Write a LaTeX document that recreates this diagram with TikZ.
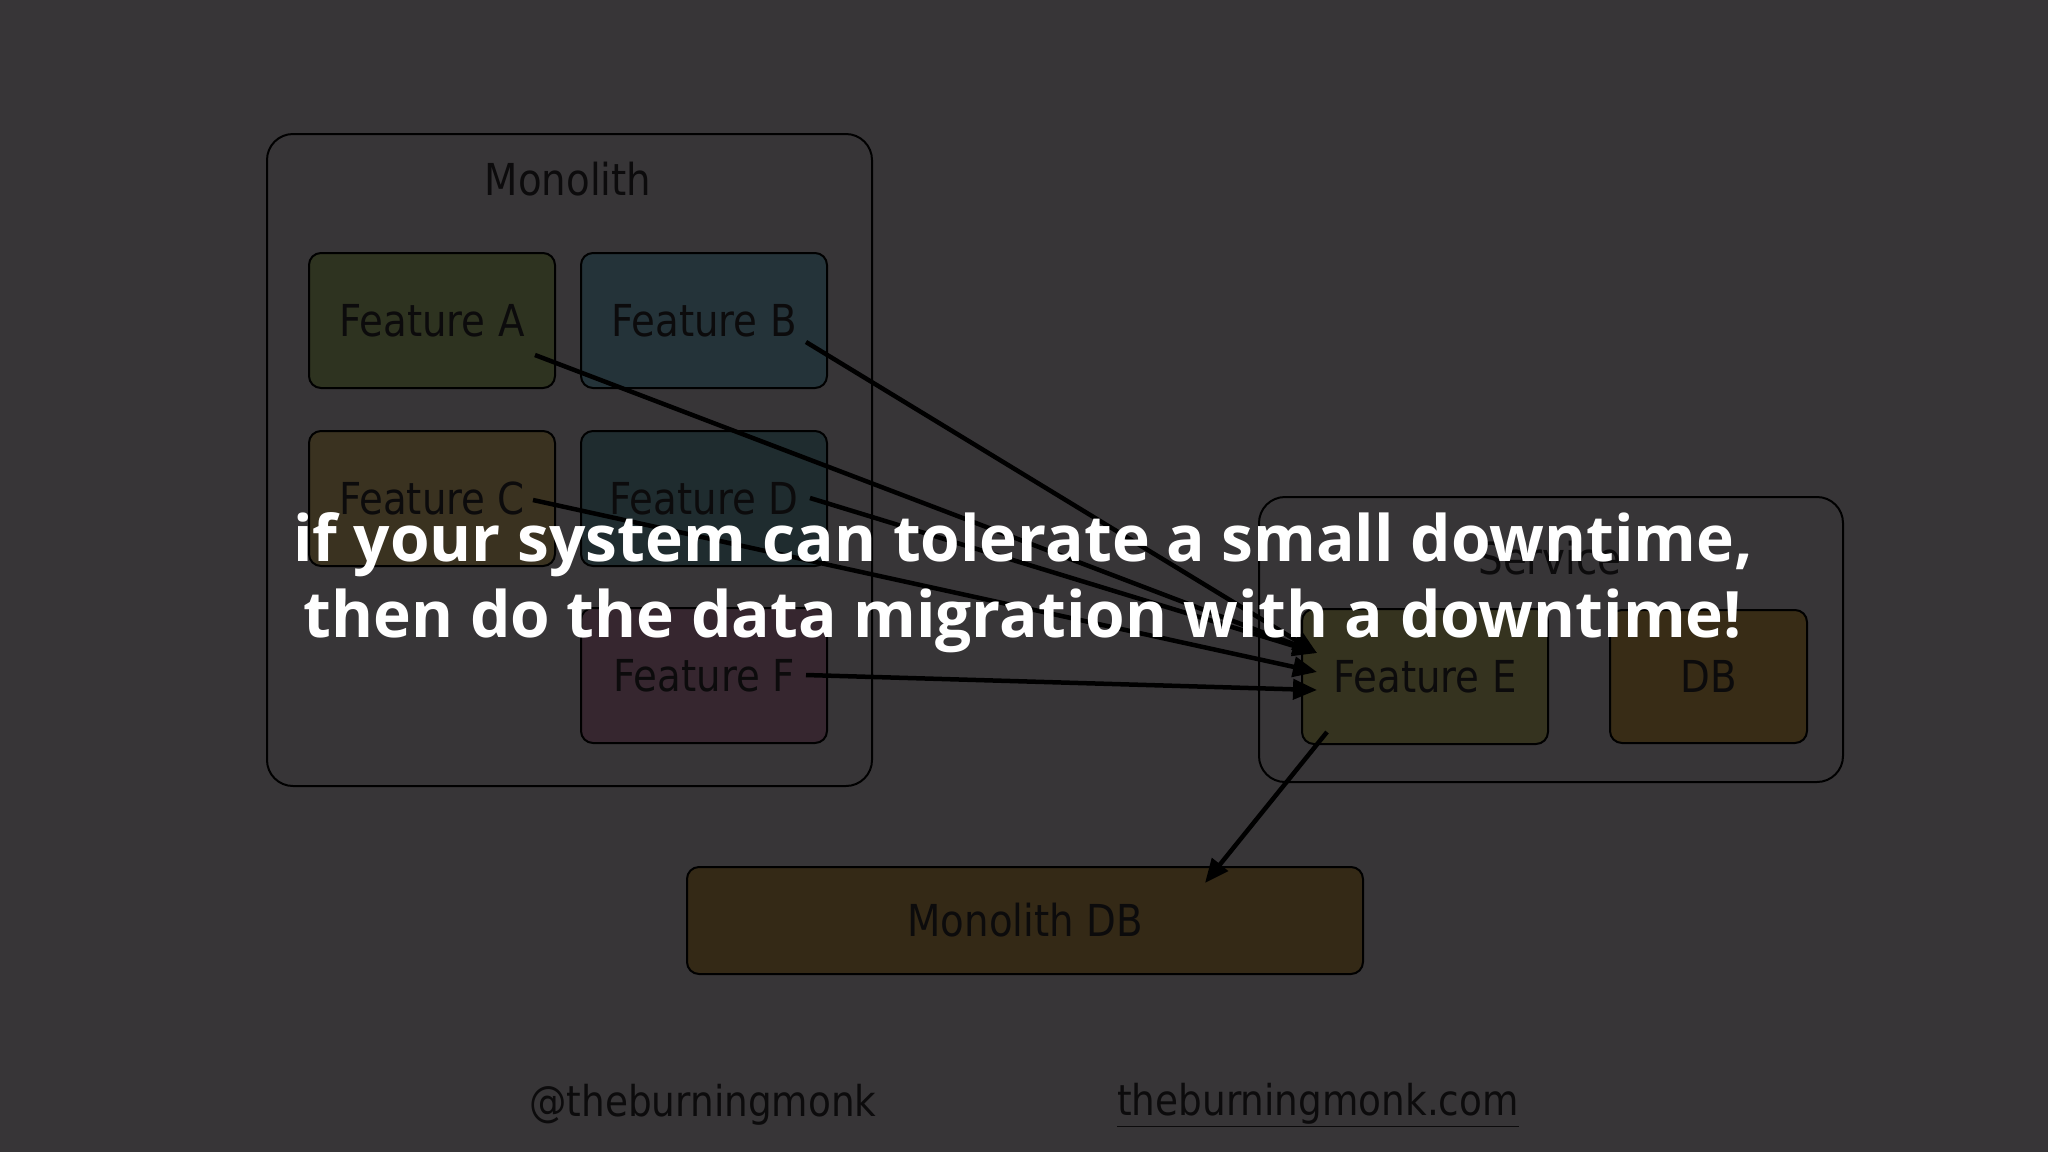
\documentclass[tikz,border=0pt]{standalone}
\usepackage{fontspec}
\setmainfont{DejaVu Sans}[FakeStretch=0.88]
\newfontfamily\overlayfont{Open Sans}
\usetikzlibrary{arrows.meta}
\definecolor{bg}{HTML}{373537}
\definecolor{txt}{HTML}{0C0B0C}
\definecolor{fa}{HTML}{2E3320}
\definecolor{fb}{HTML}{243339}
\definecolor{fc}{HTML}{3A3220}
\definecolor{fd}{HTML}{1F2C2F}
\definecolor{ff}{HTML}{36262F}
\definecolor{fe}{HTML}{35331F}
\definecolor{fdb}{HTML}{382C16}
\definecolor{mdb}{HTML}{342916}
\begin{document}
\begin{tikzpicture}[x=1pt,y=-1pt,
  container/.style={draw=black, line width=2pt, rounded corners=26pt, anchor=north west, inner sep=0pt},
  feat/.style={draw=black, line width=2pt, rounded corners=12pt, anchor=north west, inner sep=0pt,
    minimum width=246pt, minimum height=135pt, text=txt, font=\fontsize{44}{50}\selectfont},
  lbl/.style={text=txt, font=\fontsize{44}{50}\selectfont, inner sep=0pt},
  foot/.style={text=txt, font=\fontsize{42.5}{50}\selectfont, inner sep=0pt},
  arr/.style={draw=black, line width=4.5pt, -{Triangle[length=24pt,width=20pt]}},
  msg/.style={text=white, align=center, font=\overlayfont\bfseries\fontsize{64}{76}\selectfont, inner sep=0pt}
]
\fill[bg] (0,0) rectangle (2048,1152);
\useasboundingbox (0,0) rectangle (2048,1152);

% Monolith container
\node[container, minimum width=605pt, minimum height=652pt] (mono) at (266,133) {};
\node[lbl] (monolbl) at (568,179) {Monolith};
\node[feat, fill=fa] (fA) at (308,252) {Feature A};
\node[feat, fill=fb] (fB) at (580,252) {Feature B};
\node[feat, fill=fc] (fC) at (308,430) {Feature C};
\node[feat, fill=fd] (fD) at (580,430) {Feature D};
\node[feat, fill=ff] (fF) at (580,607) {Feature F};

% Service container
\node[container, minimum width=584pt, minimum height=285pt] (svc) at (1258,496) {};
\node[lbl] (svclbl) at (1550,558) {Service};
\node[feat, fill=fe] (fE) at (1301,608) {Feature E};
\node[feat, fill=fdb, minimum width=197pt, minimum height=133pt] (sdb) at (1609,609) {DB};

% Monolith DB
\node[feat, fill=mdb, minimum width=676pt, minimum height=107pt] (mdbn) at (686,866) {Monolith DB};

% connector end points
\coordinate (aOut) at (535,355);
\coordinate (bOut) at (806,342);
\coordinate (cOut) at (533,500);
\coordinate (dOut) at (810,498);
\coordinate (fOut) at (806,675);
\coordinate (eIn1) at (1317,653);
\coordinate (eIn2) at (1317,672);
\coordinate (eIn3) at (1317,690);
\coordinate (eOut) at (1327,732);
\coordinate (mdbIn) at (1205,883);

\draw[arr] (aOut) -- (eIn1);
\draw[arr] (bOut) -- (eIn1);
\draw[arr] (dOut) -- (eIn1);
\draw[arr] (cOut) -- (eIn2);
\draw[arr] (fOut) -- (eIn3);
\draw[arr] (eOut) -- (mdbIn);

% footer
\node[foot] (twitter) at (703,1105) {@theburningmonk};
\node[foot] (site) at (1318,1105) {\underline{theburningmonk.com}};

% overlay message
\node[msg] (message) at (1023,583) {if your system can tolerate a small downtime,\\then do the data migration with a downtime!};
\end{tikzpicture}
\end{document}
